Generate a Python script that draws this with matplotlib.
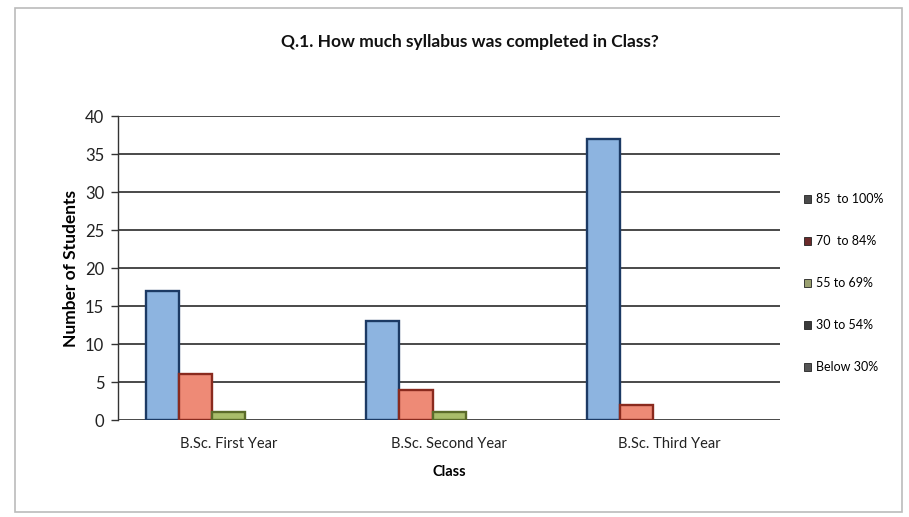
import numpy as np
import matplotlib
matplotlib.use("Agg")
import matplotlib.pyplot as plt
from matplotlib.patches import Rectangle, Patch

# === DATA ===
CLASSES = ['B.Sc. First Year', 'B.Sc. Second Year', 'B.Sc. Third Year']
SERIES = ['85  to 100%', '70  to 84%', '55 to 69%', '30 to 54%', 'Below 30%']
VAL_85_100 = [17, 13, 37]
VAL_70_84 = [6, 4, 2]
VAL_55_69 = [1, 1, 0]
VAL_30_54 = [0, 0, 0]
VAL_BELOW_30 = [0, 0, 0]
Y_TICKS = [0, 5, 10, 15, 20, 25, 30, 35, 40]

# === STYLE ===
FILL = ['#8db4e0', '#ee8a76', '#a9bd6a', '#8a7aa8', '#6fb8cc']
EDGE = ['#1c3a64', '#8a2a1e', '#5b6b2a', '#3d2f5a', '#2a6070']
LEGEND_SQ = ['#4a4a4a', '#6a2a2a', '#9aa070', '#3a3a3a', '#555555']

plt.rcParams['font.family'] = ['Lato', 'DejaVu Sans']

fig = plt.figure(figsize=(9.09, 5.17), dpi=100)
fig.patch.set_facecolor('white')
ax = fig.add_axes([0.13, 0.1876, 0.728, 0.588])

values = [VAL_85_100, VAL_70_84, VAL_55_69, VAL_30_54, VAL_BELOW_30]
x = np.arange(len(CLASSES))
width = 0.15
for i, vals in enumerate(values):
    offs = (i - 2) * width
    lw = [1.7 if v > 0 else 0 for v in vals]
    ax.bar(x + offs, vals, width, color=FILL[i], edgecolor=EDGE[i],
           linewidth=lw, zorder=3)

ax.set_xlim(-0.5, 2.5)
ax.set_ylim(0, 40)
ax.set_yticks(Y_TICKS)
ax.set_yticklabels([str(t) for t in Y_TICKS], fontsize=12, color='#222222')
ax.set_xticks(x)
ax.set_xticklabels(CLASSES, fontsize=10.5, color='#222222')
ax.tick_params(axis='x', length=0, pad=12)
ax.tick_params(axis='y', length=5, width=1, color='#333333', direction='out', pad=5)
ax.yaxis.grid(True, color='#2a2a2a', linewidth=1.2, zorder=0)
ax.set_axisbelow(True)
for side in ['top', 'right', 'bottom']:
    ax.spines[side].set_visible(False)
ax.spines['left'].set_color('#333333')
ax.spines['left'].set_linewidth(1.0)

ax.set_ylabel('Number of Students', fontsize=12.5, fontweight='bold', labelpad=4)
ax.set_xlabel('Class', fontsize=10.5, fontweight='bold', labelpad=10)

fig.text(0.517, 0.918, 'Q.1. How much syllabus was completed in Class?',
         fontsize=12.5, fontweight='bold', ha='center', va='center', color='#111111')

# legend
handles = [Patch(facecolor=LEGEND_SQ[i], edgecolor='#222222', linewidth=0.6)
           for i in range(len(SERIES))]
fig.legend(handles, SERIES, loc='center left', bbox_to_anchor=(0.872, 0.452),
           frameon=False, fontsize=9, handlelength=0.6, handleheight=0.6,
           handletextpad=0.4, labelspacing=2.4)

# chart border
fig.patches.append(Rectangle((0.017, 0.01), 0.975, 0.975, transform=fig.transFigure,
                             fill=False, edgecolor='#bbbbbb', linewidth=1.2))

fig.savefig('out.png', dpi=100, facecolor=fig.get_facecolor())
